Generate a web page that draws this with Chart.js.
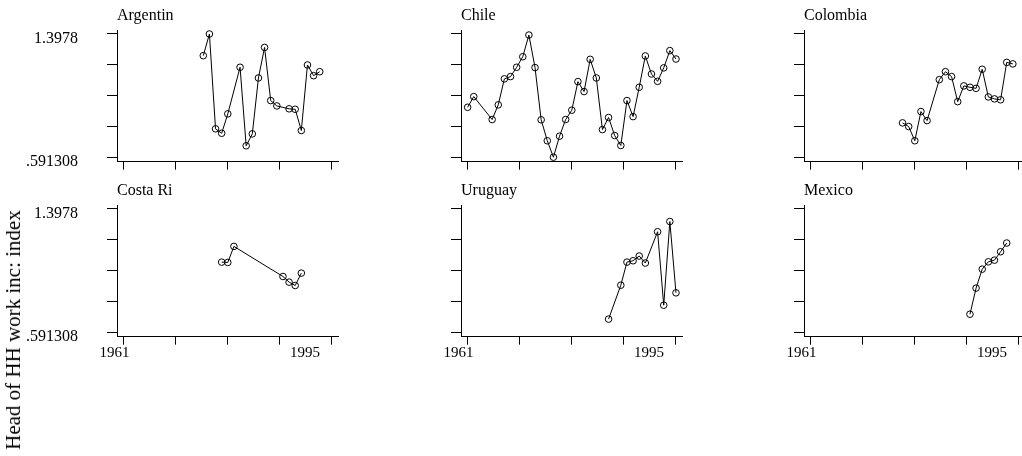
<!DOCTYPE html>
<html lang="en">
<head>
  <meta charset="UTF-8">
  <title>Head of HH work inc: index</title>
  <script src="https://cdn.jsdelivr.net/npm/chart.js"></script>
  <style>
    body { margin: 0; background: #fff; overflow: hidden; width: 1022px; height: 456px; position: relative; }
    canvas { position: absolute; }
    #ytitle {
      position: absolute; left: 13px; top: 330px;
      transform: translate(-50%, -50%) rotate(-90deg);
      font: 21px 'Liberation Serif', 'Times New Roman', serif;
      line-height: 24px; white-space: nowrap; color: #000;
    }
  </style>
</head>
<body>
  <canvas id="argentina" width="345" height="200" style="left:7px;top:0px"></canvas>
  <canvas id="chile" width="345" height="200" style="left:351px;top:0px"></canvas>
  <canvas id="colombia" width="345" height="200" style="left:694px;top:0px"></canvas>
  <canvas id="costarica" width="345" height="200" style="left:7px;top:175px"></canvas>
  <canvas id="uruguay" width="345" height="200" style="left:351px;top:175px"></canvas>
  <canvas id="mexico" width="345" height="200" style="left:694px;top:175px"></canvas>
  <div id="ytitle">Head of HH work inc: index</div>

  <script>
    // values
    const argYears = [1974, 1975, 1976, 1977, 1978, 1980, 1981, 1982, 1983, 1984, 1985, 1986, 1988, 1989, 1990, 1991, 1992, 1993];
    const argValues = [1.256, 1.3978, 0.777, 0.748, 0.875, 1.180, 0.666, 0.744, 1.110, 1.310, 0.962, 0.927, 0.908, 0.905, 0.766, 1.195, 1.125, 1.151];

    const chlYears = [1961, 1962, 1965, 1966, 1967, 1968, 1969, 1970, 1971, 1972, 1973, 1974, 1975, 1976, 1977, 1978, 1979, 1980,
                      1981, 1982, 1983, 1984, 1985, 1986, 1987, 1988, 1989, 1990, 1991, 1992, 1993, 1994, 1995];
    const chlValues = [0.918, 0.988, 0.838, 0.934, 1.104, 1.119, 1.180, 1.249, 1.391, 1.178, 0.836, 0.699, 0.591308, 0.729, 0.838, 0.899, 1.086, 1.021,
                       1.232, 1.110, 0.772, 0.851, 0.733, 0.668, 0.962, 0.857, 1.049, 1.254, 1.136, 1.088, 1.176, 1.289, 1.234];

    const colYears = [1976, 1977, 1978, 1979, 1980, 1982, 1983, 1984, 1985, 1986, 1987, 1988, 1989, 1990, 1991, 1992, 1993, 1994];
    const colValues = [0.816, 0.792, 0.699, 0.890, 0.831, 1.099, 1.151, 1.119, 0.955, 1.058, 1.049, 1.042, 1.167, 0.986, 0.973, 0.967, 1.212, 1.202];

    const criYears = [1977, 1978, 1979, 1987, 1988, 1989, 1990];
    const criValues = [1.050, 1.048, 1.153, 0.956, 0.919, 0.897, 0.978];

    const uryYears = [1984, 1986, 1987, 1988, 1989, 1990, 1992, 1993, 1994, 1995];
    const uryValues = [0.677, 0.899, 1.050, 1.059, 1.090, 1.044, 1.249, 0.768, 1.316, 0.849];

    const mexYears = [1987, 1988, 1989, 1990, 1991, 1992, 1993];
    const mexValues = [0.709, 0.880, 1.004, 1.052, 1.063, 1.118, 1.175];

    const yTicks = [0.591308, 0.792931, 0.994554, 1.196177, 1.3978];
    const yTickLabels = ['.591308', '', '', '', '1.3978'];
    const xTicks = [1961, 1969.5, 1978, 1986.5, 1995];
    const xTickLabels = ['1961', '', '', '', '1995'];

    const serif = "'Liberation Serif', 'Times New Roman', serif";
    // the "1995" label sits left of its tick in the original, so it gets its own unmarked tick
    const x1995LabelPos = 1992.06;

    const fixAxis = (size) => (scale) => {
      if (scale.isHorizontal()) scale.height = size; else scale.width = size;
      scale.paddingLeft = scale.paddingRight = scale.paddingTop = scale.paddingBottom = 0;
    };

    const makePanel = (id, title, years, values, showY, showX) => {
      new Chart(document.getElementById(id), {
        type: 'line',
        data: {
          datasets: [{
            data: years.map((yr, i) => ({ x: yr, y: values[i] })),
            borderColor: '#000',
            borderWidth: 1,
            tension: 0,
            pointStyle: 'circle',
            pointRadius: 3.3,
            pointBorderWidth: 1,
            pointBorderColor: '#000',
            pointBackgroundColor: 'rgba(0,0,0,0)'
          }]
        },
        options: {
          responsive: false,
          animation: false,
          layout: { padding: { left: 0, top: 0, right: 13.4, bottom: 8.3 } },
          plugins: {
            legend: { display: false },
            tooltip: { enabled: false },
            title: {
              display: true,
              text: title,
              align: 'start',
              fullSize: false,
              color: '#000',
              font: { family: serif, size: 16, weight: 'normal' },
              padding: { top: 6.2, bottom: 4.6 }
            }
          },
          scales: {
            x: {
              type: 'linear',
              min: 1959.92,
              max: 1996.08,
              afterBuildTicks: (scale) => {
                const vals = xTicks.slice(0, 4).concat([x1995LabelPos, xTicks[4]]);
                scale.ticks = vals.map(v => ({ value: v }));
              },
              afterFit: fixAxis(30),
              border: { display: true, color: '#000', width: 1 },
              grid: {
                display: true,
                drawOnChartArea: false,
                drawTicks: true,
                tickLength: 8,
                tickWidth: 1,
                tickColor: (ctx) => (ctx.tick && ctx.tick.value === x1995LabelPos) ? 'rgba(0,0,0,0)' : '#000'
              },
              ticks: {
                autoSkip: false,
                maxRotation: 0,
                minRotation: 0,
                padding: -1,
                labelOffset: -9,
                color: '#000',
                font: { family: serif, size: 15 },
                callback: (value) => {
                  if (!showX) return '';
                  if (value === xTicks[0]) return xTickLabels[0];
                  if (value === x1995LabelPos) return xTickLabels[4];
                  return '';
                }
              }
            },
            y: {
              type: 'linear',
              min: 0.56185,
              max: 1.42398,
              afterBuildTicks: (scale) => {
                scale.ticks = yTicks.map(v => ({ value: v }));
              },
              afterFit: fixAxis(110),
              border: { display: true, color: '#000', width: 1 },
              grid: {
                display: true,
                drawOnChartArea: false,
                drawTicks: true,
                tickLength: 10,
                tickWidth: 1,
                tickColor: '#000'
              },
              ticks: {
                autoSkip: false,
                padding: 29,
                labelOffset: 5,
                color: '#000',
                font: { family: serif, size: 16 },
                callback: (value, index) => showY ? yTickLabels[index] : ''
              }
            }
          }
        }
      });
    };

    makePanel('argentina', 'Argentin', argYears, argValues, true, false);
    makePanel('chile', 'Chile', chlYears, chlValues, false, false);
    makePanel('colombia', 'Colombia', colYears, colValues, false, false);
    makePanel('costarica', 'Costa Ri', criYears, criValues, true, true);
    makePanel('uruguay', 'Uruguay', uryYears, uryValues, false, true);
    makePanel('mexico', 'Mexico', mexYears, mexValues, false, true);
  </script>
</body>
</html>
